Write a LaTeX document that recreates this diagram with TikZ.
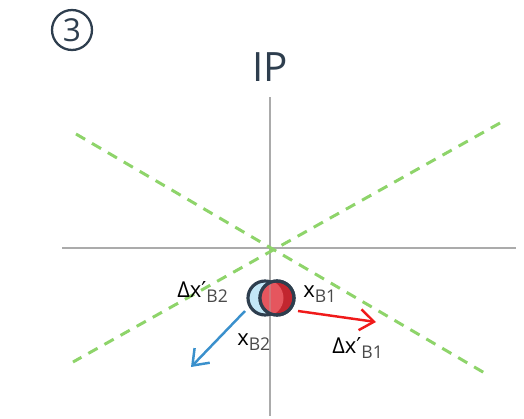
\documentclass[tikz,border=0pt]{standalone}
\usepackage{fontspec}
\setmainfont{Open Sans}
\newfontfamily\primefont{DejaVu Sans}
\usetikzlibrary{arrows.meta, positioning, calc}
\definecolor{slate}{HTML}{2E3E4E}
\definecolor{axisgray}{HTML}{ABABAB}
\definecolor{dashgreen}{HTML}{8ED46A}
\definecolor{kickred}{HTML}{F01A1A}
\definecolor{kickblue}{HTML}{3A90CC}
\definecolor{beamblue}{HTML}{C3E7F7}
\definecolor{beamred}{HTML}{E5565E}
\definecolor{beamdark}{HTML}{C2262F}
\definecolor{subgray}{HTML}{4A4A4A}
\newcommand{\pr}{{\primefont\char"2032}}
\newcommand{\sub}[1]{\raisebox{-0.45ex}{\fontsize{10}{10}\selectfont\color{subgray}#1}}

\begin{document}
\begin{tikzpicture}[x=0.02cm, y=-0.02cm,
    axis/.style={axisgray, line width=1.6pt},
    crossing/.style={dashgreen, line width=1.7pt, dash pattern=on 6pt off 4.5pt},
    beam/.style={circle, inner sep=0pt, minimum size=0.68cm, line width=1.8pt, draw=slate},
    kick/.style={line width=1.4pt, -{Straight Barb[length=8pt, width=12pt, line width=1.4pt]}},
    lbl/.style={anchor=base west, inner sep=0pt, font=\fontsize{12.5}{14}\selectfont, text=black}]
    \useasboundingbox (0,0) rectangle (524,419);
    % step number
    \node[circle, draw=slate, line width=1.3pt, minimum size=0.8cm, inner sep=0pt, font=\fontsize{18}{18}\selectfont, text=slate] (num) at (72,30) {3};
    \node[anchor=base, inner sep=0pt, font=\fontsize{23}{23}\selectfont, text=slate] (ip) at (270,81) {IP};
    % axes
    \coordinate (vtop) at (270,97);
    \coordinate (vbot) at (270,416);
    \coordinate (hleft) at (62,248);
    \coordinate (hright) at (516,248);
    \draw[axis] (vtop) -- (vbot);
    \draw[axis] (hleft) -- (hright);
    % crossing angle
    \coordinate (c1a) at (76,134);
    \coordinate (c1b) at (488,375);
    \coordinate (c2a) at (500,123);
    \coordinate (c2b) at (73,362);
    \draw[crossing] (c1a) -- (c1b);
    \draw[crossing] (c2a) -- (c2b);
    % bunches
    \node[beam, fill=beamblue] (b2) at (265,298) {};
    \node[beam, fill=beamdark] (b1) at (277,298) {};
    \begin{scope}
        \clip (b1) circle (17);
        \fill[beamred] (b2) circle (18.5);
        \draw[axis, opacity=0.35] (vtop) -- (vbot);
    \end{scope}
    \draw[slate, line width=1.8pt] (b1) circle (17);
    % kicks
    \coordinate (k1s) at (298,311);
    \coordinate (k1e) at (376,322);
    \coordinate (k2s) at (245,311);
    \coordinate (k2e) at (191,367);
    \draw[kick, kickred] (k1s) -- (k1e);
    \draw[kick, kickblue] (k2s) -- (k2e);
    % labels
    \node[lbl] (xb1) at (303,297) {x\sub{B1}};
    \node[lbl] (xb2) at (237,345) {x\sub{B2}};
    \node[lbl] (db2) at (177,297) {Δx\pr\sub{B2}};
    \node[lbl] (db1) at (332,353) {Δx\pr\sub{B1}};
\end{tikzpicture}
\end{document}
